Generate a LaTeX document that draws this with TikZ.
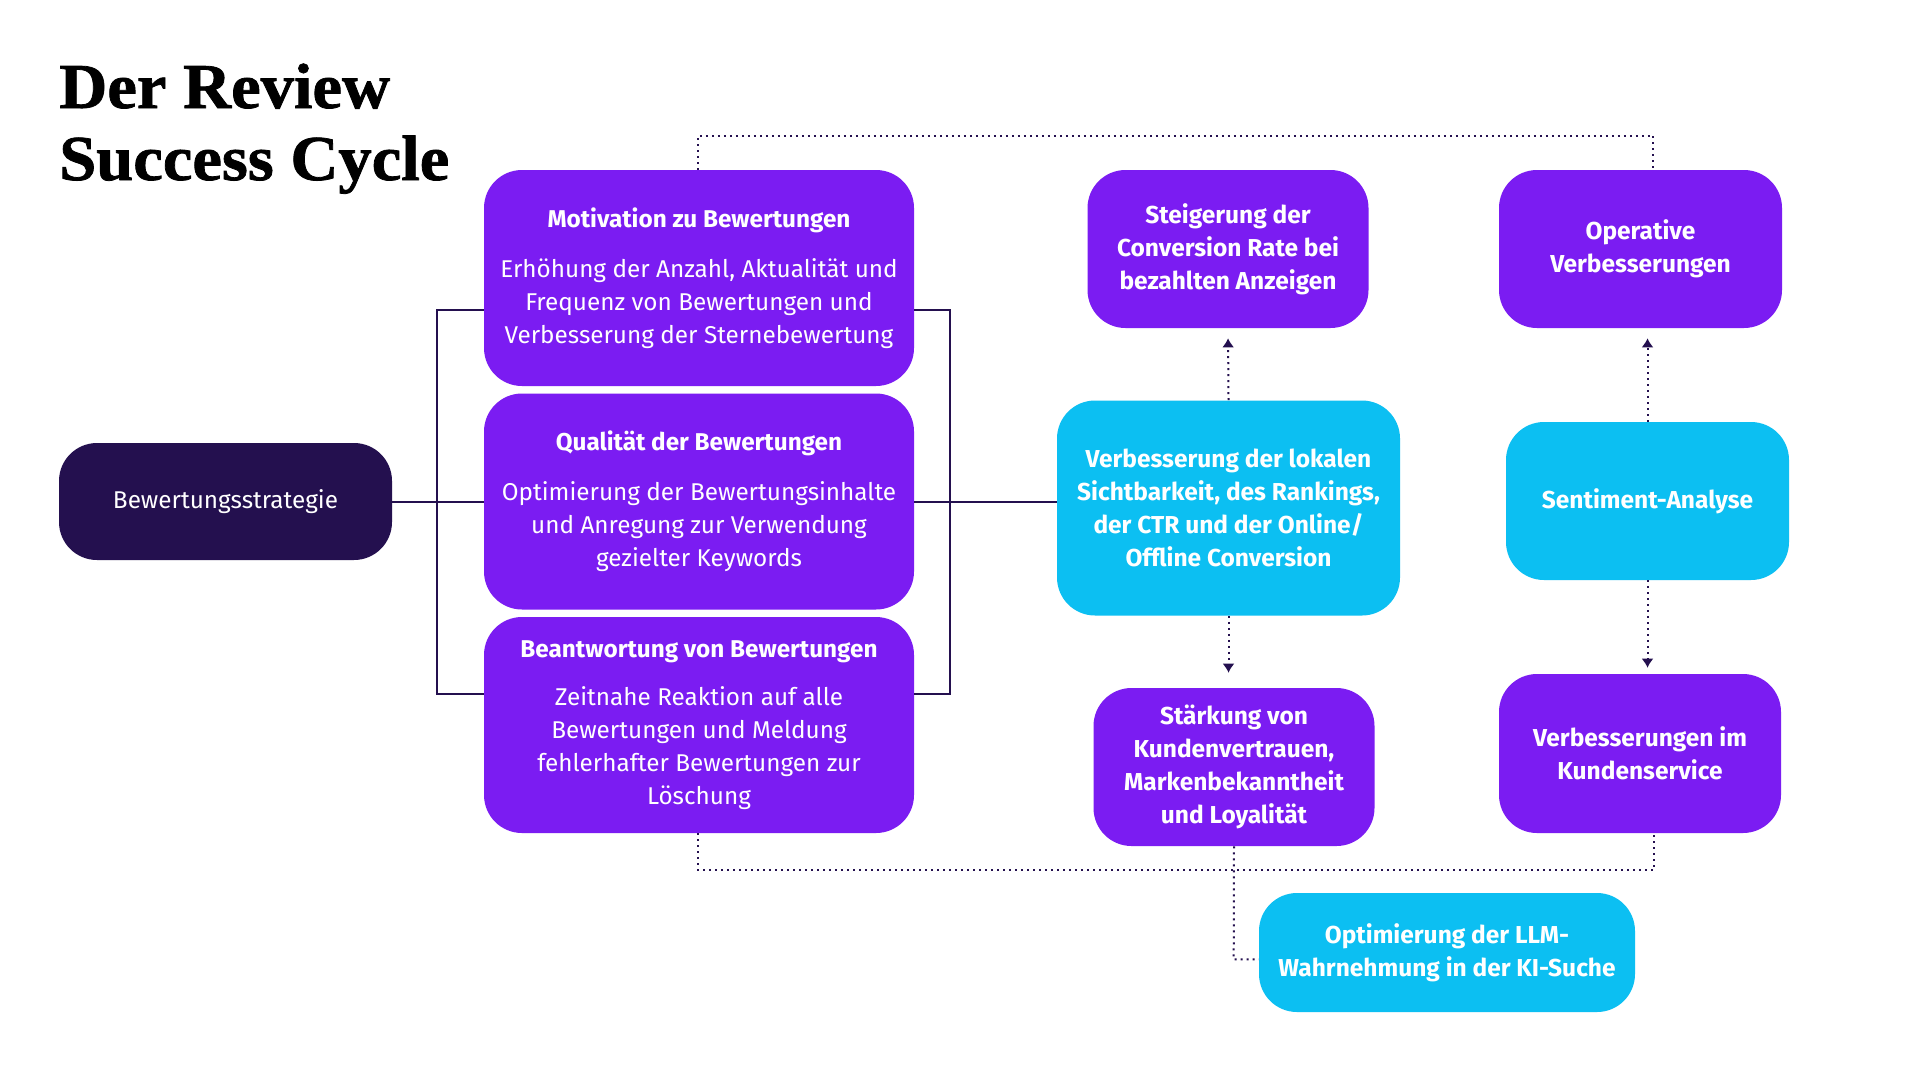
\documentclass[tikz,border=0pt]{standalone}
\usepackage{fontspec}
\setmainfont{Fira Sans}
\newfontfamily\titlefont{Liberation Serif}[FakeStretch=1.04,FakeBold=1.2]
\usepackage{tikz}
\usetikzlibrary{arrows,arrows.meta,positioning}
\definecolor{lila}{HTML}{7B1CF2}
\definecolor{himmel}{HTML}{0CBFF2}
\definecolor{nacht}{HTML}{24104F}

\begin{document}
\begin{tikzpicture}[>={Latex[length=9pt,width=12pt]},x=1pt,y=-1pt,semithick]
\tikzstyle{kasten} = [rectangle,rounded corners=38pt,text=white,align=center,inner sep=0pt,font=\fontsize{24.3}{33}\selectfont]
\tikzstyle{lilabox} = [kasten,fill=lila]
\tikzstyle{blaubox} = [kasten,fill=himmel,font=\bfseries\fontsize{24.5}{33}\selectfont]
\tikzstyle{linie} = [draw=nacht,line width=2pt]
\tikzstyle{punkt} = [draw=nacht,line width=2pt,dash pattern=on 2pt off 4pt]
    \fill[white] (0,0) rectangle (1920,1080);
    \useasboundingbox (0,0) rectangle (1920,1080);

    \node[anchor=base west,inner sep=0pt,font=\titlefont\bfseries\fontsize{64}{72}\selectfont] (titel) at (59,108) {Der Review};
    \node[anchor=base west,inner sep=0pt,font=\titlefont\bfseries\fontsize{64}{72}\selectfont] (titel2) at (59,180) {Success Cycle};

    \node[kasten,fill=nacht,minimum width=333pt,minimum height=117pt] (bws) at (225.5,501.5) {Bewertungsstrategie};

    \node[lilabox,minimum width=430pt,minimum height=216pt] (mot) at (699,278) {\textbf{Motivation zu Bewertungen}\\[17pt]Erhöhung der Anzahl, Aktualität und\\Frequenz von Bewertungen und\\Verbesserung der Sternebewertung};
    \node[lilabox,minimum width=430pt,minimum height=216pt] (qual) at (699,501.5) {\textbf{Qualität der Bewertungen}\\[17pt]Optimierung der Bewertungsinhalte\\und Anregung zur Verwendung\\gezielter Keywords};
    \node[lilabox,minimum width=430pt,minimum height=216pt] (antw) at (699,725) {\textbf{Beantwortung von Bewertungen}\\[15pt]Zeitnahe Reaktion auf alle\\Bewertungen und Meldung\\fehlerhafter Bewertungen zur\\Löschung};

    \node[blaubox,minimum width=343pt,minimum height=215pt] (vis) at (1228.5,508) {Verbesserung der lokalen\\Sichtbarkeit, des Rankings,\\der CTR und der Online/\\Offline Conversion};
    \node[blaubox,fill=lila,minimum width=281pt,minimum height=158pt] (conv) at (1228,249) {Steigerung der\\Conversion Rate bei\\bezahlten Anzeigen};
    \node[blaubox,fill=lila,minimum width=281pt,minimum height=158pt] (staerk) at (1234,767) {Stärkung von\\Kundenvertrauen,\\Markenbekanntheit\\und Loyalität};
    \node[blaubox,minimum width=376pt,minimum height=119pt] (llm) at (1447,952.5) {Optimierung der LLM-\\Wahrnehmung in der KI-Suche};

    \node[blaubox,fill=lila,minimum width=283pt,minimum height=158pt] (op) at (1640.5,249) {Operative\\Verbesserungen};
    \node[blaubox,minimum width=283pt,minimum height=158pt] (sent) at (1647.5,501) {Sentiment-Analyse};
    \node[blaubox,fill=lila,minimum width=282pt,minimum height=159pt] (kund) at (1640,753.5) {Verbesserungen im\\Kundenservice};

    % Klammern
    \coordinate (lo) at (437,310);
    \coordinate (lu) at (437,694);
    \coordinate (ro) at (950,310);
    \coordinate (ru) at (950,694);
    \draw[linie] (bws.east) -- (qual.west);
    \draw[linie] (mot.west |- lo) -- (lo) -- (lu) -- (antw.west |- lu);
    \draw[linie] (mot.east |- ro) -- (ro) -- (ru) -- (antw.east |- ru);
    \draw[linie] (qual.east) -- (qual.east -| vis.west);

    % Kreislauf
    \coordinate (ol) at (698,135.5);
    \coordinate (or) at (1653,135.5);
    \coordinate (ul) at (698,870);
    \coordinate (ur) at (1654,870);
    \coordinate (lk) at (1233.7,959.4);
    \draw[punkt] (mot.north -| ol) -- (ol) -- (or) -- (op.north -| or);
    \draw[punkt] (antw.south -| ul) -- (ul) -- (ur) -- (kund.south -| ur);
    \draw[punkt] (staerk.south) -- (lk) -- (llm.west |- lk);

    \tikzset{pfeil/.style={punkt,->,shorten >=10pt}}
    \draw[pfeil] (vis.north) -- (conv.south);
    \draw[pfeil,shorten >=15pt] (vis.south) -- (vis.south |- staerk.north);
    \draw[pfeil] (sent.north) -- (sent.north |- op.south);
    \draw[pfeil,shorten >=6pt] (sent.south) -- (sent.south |- kund.north);
\end{tikzpicture}
\end{document}
